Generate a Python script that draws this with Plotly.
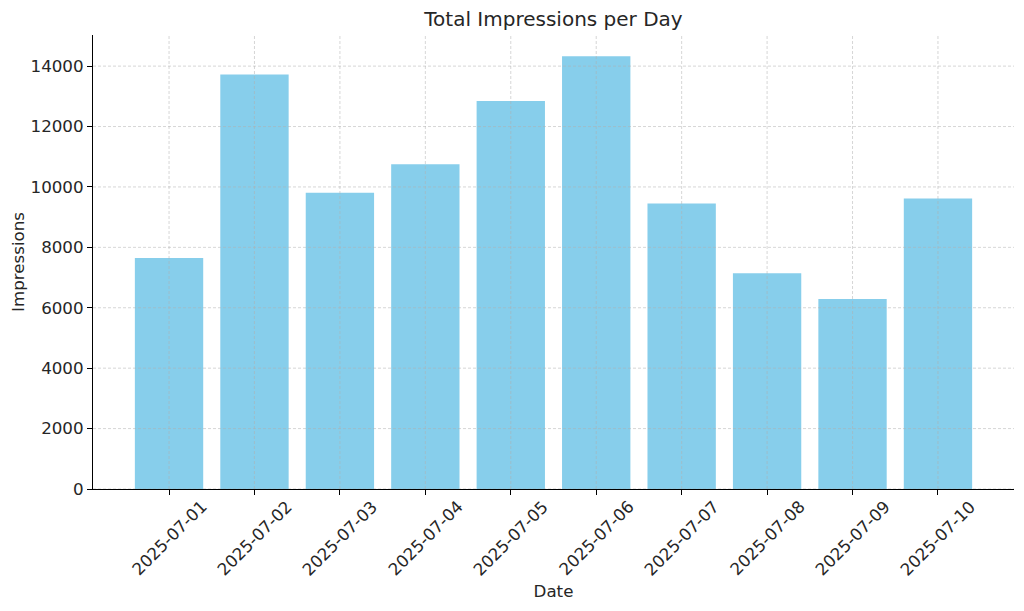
import plotly.graph_objects as go

dates = ["2025-07-01", "2025-07-02", "2025-07-03", "2025-07-04", "2025-07-05",
         "2025-07-06", "2025-07-07", "2025-07-08", "2025-07-09", "2025-07-10"]
impressions = [7650, 13720, 9805, 10755, 12845, 14330, 9455, 7140, 6290, 9620]
y_ticks = [0, 2000, 4000, 6000, 8000, 10000, 12000, 14000]

idx = list(range(len(dates)))
fig = go.Figure(go.Bar(x=idx, y=impressions, width=0.8,
                       marker=dict(color="#87CEEB", line=dict(width=0))))

grid_line = dict(color="rgba(176,176,176,0.65)", width=0.8, dash="3px,2px")
shapes = []
for i in idx:
    shapes.append(dict(type="line", xref="x", yref="paper", x0=i, x1=i, y0=0, y1=1,
                       line=grid_line, layer="above"))
for t in y_ticks:
    shapes.append(dict(type="line", xref="paper", yref="y", x0=0, x1=1, y0=t, y1=t,
                       line=grid_line, layer="above"))

annotations = []
for i, d in zip(idx, dates):
    annotations.append(dict(text=d, x=i, xref="x", y=0, yref="paper", yshift=-49,
                            xanchor="center", yanchor="middle", textangle=-45,
                            showarrow=False, font=dict(size=16.7, color="#262626")))

font = "DejaVu Sans"
fig.update_layout(
    width=1016, height=603,
    margin=dict(l=85, r=10, t=27, b=122),
    paper_bgcolor="white", plot_bgcolor="white",
    font=dict(family=font, size=16.7, color="#262626"),
    title=dict(text="Total Impressions per Day", x=0.5, xref="paper", xanchor="center",
               y=0.982, yanchor="middle", font=dict(size=20, color="#262626")),
    shapes=shapes,
    annotations=annotations,
    showlegend=False,
    xaxis=dict(range=[-0.89, 9.89], tickmode="array", tickvals=idx, showticklabels=False,
               showgrid=False, zeroline=False, automargin=False,
               showline=True, linecolor="black", linewidth=1.1,
               ticks="outside", ticklen=5, tickwidth=1.1, tickcolor="black",
               title=dict(text="Date", font=dict(size=16.7), standoff=91)),
    yaxis=dict(range=[0, 15030], tickmode="array", tickvals=y_ticks,
               ticktext=[str(t) for t in y_ticks],
               showgrid=False, zeroline=False, automargin=False,
               showline=True, linecolor="black", linewidth=1.1,
               ticks="outside", ticklen=5, tickwidth=1.1, tickcolor="black",
               title=dict(text="Impressions", font=dict(size=16.7), standoff=2)),
)
fig.write_html("out.html")
